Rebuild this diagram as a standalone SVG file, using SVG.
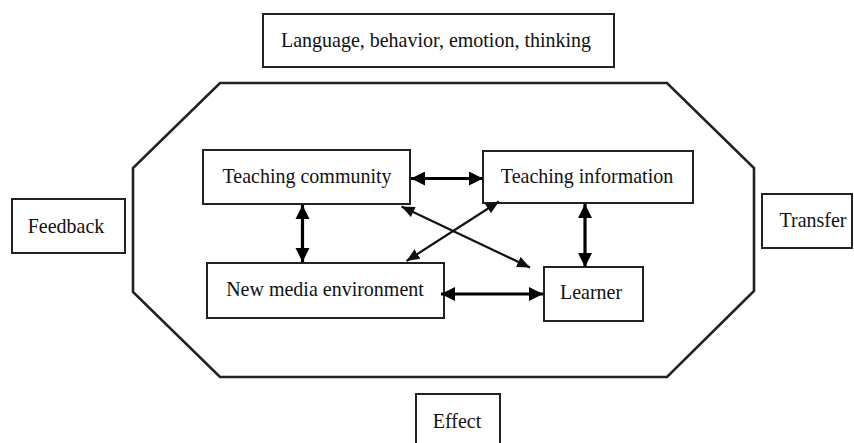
<svg xmlns="http://www.w3.org/2000/svg" width="854" height="443" viewBox="0 0 854 443">
<style>
.box{fill:#fff;stroke:#222;stroke-width:2}
.oct{fill:none;stroke:#222;stroke-width:2.6}
.lbl{font-size:20px;fill:#111;text-anchor:middle}
.thick{stroke:#000;stroke-width:3.2;fill:none;marker-start:url(#hs);marker-end:url(#he)}
.thin{stroke:#111;stroke-width:2.2;fill:none;marker-start:url(#ts);marker-end:url(#te)}
</style>
<defs>
<marker id="he" markerUnits="userSpaceOnUse" markerWidth="16" markerHeight="16" refX="14" refY="7" orient="auto"><path d="M0,0 L14,7 L0,14 Z" fill="#000"/></marker>
<marker id="hs" markerUnits="userSpaceOnUse" markerWidth="16" markerHeight="16" refX="0" refY="7" orient="auto"><path d="M14,0 L0,7 L14,14 Z" fill="#000"/></marker>
<marker id="te" markerUnits="userSpaceOnUse" markerWidth="14" markerHeight="14" refX="13" refY="5.5" orient="auto"><path d="M0,0 L13,5.5 L0,11 Z" fill="#111"/></marker>
<marker id="ts" markerUnits="userSpaceOnUse" markerWidth="14" markerHeight="14" refX="0" refY="5.5" orient="auto"><path d="M13,0 L0,5.5 L13,11 Z" fill="#111"/></marker>
</defs>
<rect width="854" height="443" fill="#fff"/>
<g id="frame">
<polygon class="oct" points="220,83 667,83 754,168 754,291 667,377 220,377 133,292 133,168"/>
</g>
<g font-family="'Liberation Serif', 'DejaVu Serif', serif">
<g id="language">
<rect class="box" x="263" y="14" width="351" height="53"/>
<text class="lbl" transform="translate(436,47) scale(1,1.1)">Language, behavior, emotion, thinking</text>
</g>
<g id="feedback">
<rect class="box" x="12" y="199" width="113" height="54"/>
<text class="lbl" transform="translate(66,233) scale(1,1.1)">Feedback</text>
</g>
<g id="transfer">
<rect class="box" x="762" y="194" width="90" height="54"/>
<text class="lbl" transform="translate(813,227) scale(1,1.1)">Transfer</text>
</g>
<g id="effect">
<rect class="box" x="416" y="394" width="84" height="60"/>
<text class="lbl" transform="translate(457,428) scale(1,1.1)">Effect</text>
</g>
<g id="teaching-community">
<rect class="box" x="203" y="150" width="207" height="54"/>
<text class="lbl" transform="translate(307,183) scale(1,1.1)">Teaching community</text>
</g>
<g id="teaching-information">
<rect class="box" x="483" y="151" width="210" height="52"/>
<text class="lbl" transform="translate(587,183) scale(1,1.1)">Teaching information</text>
</g>
<g id="new-media-environment">
<rect class="box" x="207" y="263" width="237" height="55"/>
<text class="lbl" transform="translate(325,296) scale(1,1.1)">New media environment</text>
</g>
<g id="learner">
<rect class="box" x="544" y="267" width="99" height="54"/>
<text class="lbl" transform="translate(591,299) scale(1,1.1)">Learner</text>
</g>
</g>
<g id="connectors">
<line class="thick" x1="411" y1="178.5" x2="483" y2="178.5"/>
<line class="thick" x1="302.5" y1="205" x2="302.5" y2="262"/>
<line class="thick" x1="585" y1="204" x2="585" y2="267"/>
<line class="thick" x1="441" y1="294" x2="543" y2="294"/>
<line class="thin" x1="401.5" y1="206.5" x2="530" y2="267.5"/>
<line class="thin" x1="499" y1="201.5" x2="406.5" y2="261"/>
</g>
</svg>
